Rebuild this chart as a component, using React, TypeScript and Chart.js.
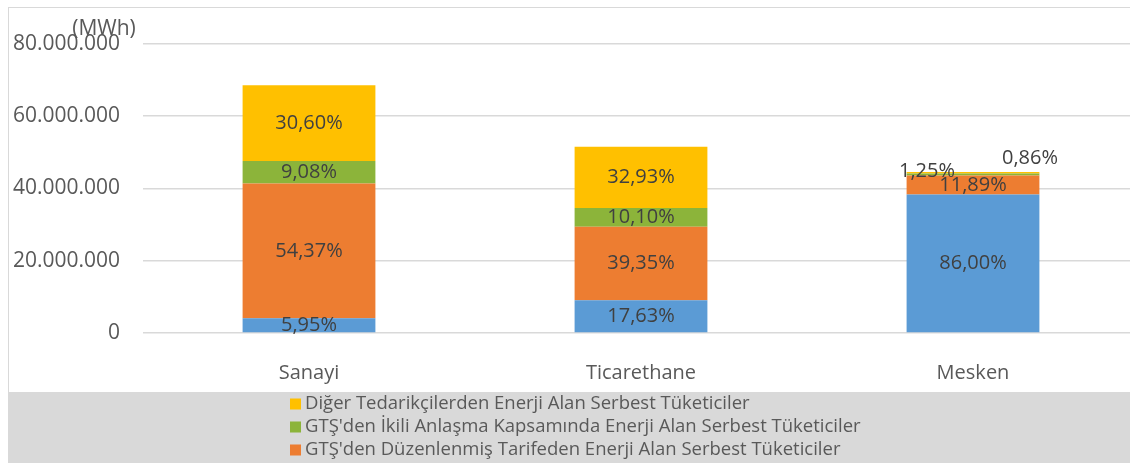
import React, { useEffect, useRef } from "react";
import { Chart, registerables } from "chart.js";

Chart.register(...registerables);

const categories = ["Sanayi", "Ticarethane", "Mesken"];

const seriesNames = [
  "Serbest Olmayan Tüketiciler",
  "GTŞ'den Düzenlenmiş Tarifeden Enerji Alan Serbest Tüketiciler",
  "GTŞ'den İkili Anlaşma Kapsamında Enerji Alan Serbest Tüketiciler",
  "Diğer Tedarikçilerden Enerji Alan Serbest Tüketiciler",
];

const seriesColors = ["#5b9bd5", "#ed7d31", "#8cb43a", "#ffc000"];

const blueValues = [4080000, 9080000, 38270000];
const orangeValues = [37240000, 20270000, 5290000];
const greenValues = [6220000, 5200000, 560000];
const yellowValues = [20960000, 16960000, 380000];

const bluePct = ["5,95%", "17,63%", "86,00%"];
const orangePct = ["54,37%", "39,35%", "11,89%"];
const greenPct = ["9,08%", "10,10%", "1,25%"];
const yellowPct = ["30,60%", "32,93%", "0,86%"];

const yTickValues = [0, 20000000, 40000000, 60000000, 80000000];
const yAxisUnit = "(MWh)";

const legendOrder = [3, 2, 1];

const FONT = "'Open Sans', 'DejaVu Sans', sans-serif";

function fmt(v: number): string {
  return String(Math.round(v)).replace(/\B(?=(\d{3})+(?!\d))/g, ".");
}

export default function App() {
  const ref = useRef<HTMLCanvasElement | null>(null);

  useEffect(() => {
    const canvas = ref.current;
    if (!canvas) return;
    const values = [blueValues, orangeValues, greenValues, yellowValues];
    const pcts = [bluePct, orangePct, greenPct, yellowPct];

    const bandTop = 384;

    const bgPlugin = {
      id: "bgBand",
      beforeDraw(chart: any) {
        const ctx = chart.ctx;
        ctx.save();
        ctx.fillStyle = "#d9d9d9";
        ctx.fillRect(0, bandTop, chart.width, chart.height - bandTop);
        ctx.restore();
      },
    };

    const labelPlugin = {
      id: "segLabels",
      afterDatasetsDraw(chart: any) {
        const ctx = chart.ctx;
        ctx.save();
        ctx.font = `20px ${FONT}`;
        ctx.fillStyle = "#404040";
        ctx.textAlign = "center";
        ctx.textBaseline = "middle";
        chart.data.datasets.forEach((ds: any, di: number) => {
          const meta = chart.getDatasetMeta(di);
          meta.data.forEach((el: any, i: number) => {
            const p = el.getProps(["x", "y", "base"], true);
            let cx = p.x;
            let cy = (p.y + p.base) / 2;
            const h = Math.abs(p.base - p.y);
            if (h < 6) {
              if (di === 2) {
                cx -= 46;
                cy -= 3;
              } else if (di === 3) {
                cx += 57;
                cy -= 14;
              }
            }
            ctx.fillText(pcts[di][i], cx, cy);
          });
        });
        ctx.restore();
      },
    };

    const extrasPlugin = {
      id: "extras",
      afterDraw(chart: any) {
        const ctx = chart.ctx;
        ctx.save();
        ctx.font = `21px ${FONT}`;
        ctx.fillStyle = "#595959";
        ctx.textAlign = "center";
        ctx.textBaseline = "middle";
        ctx.fillText(yAxisUnit, 95, 21);

        ctx.font = `18.5px ${FONT}`;
        ctx.textAlign = "left";
        legendOrder.forEach((si, row) => {
          const cy = 396 + row * 23;
          ctx.fillStyle = seriesColors[si];
          ctx.fillRect(281, cy - 5.5, 11, 11);
          ctx.fillStyle = "#595959";
          ctx.fillText(seriesNames[si], 296, cy);
        });
        ctx.restore();
      },
    };

    const chart = new Chart(canvas, {
      type: "bar",
      data: {
        labels: categories,
        datasets: values.map((v, i) => ({
          label: seriesNames[i],
          data: v,
          backgroundColor: seriesColors[i],
          borderWidth: 0,
          categoryPercentage: 0.4,
          barPercentage: 1,
        })),
      },
      options: {
        responsive: false,
        animation: false,
        devicePixelRatio: 1,
        layout: { padding: { left: 0, top: 34, right: 8, bottom: 70 } },
        plugins: {
          legend: { display: false },
          tooltip: { enabled: false },
          title: { display: false },
        },
        scales: {
          x: {
            stacked: true,
            grid: { display: false },
            border: { display: false },
            ticks: {
              color: "#595959",
              font: { family: FONT, size: 20 },
              padding: 20,
            },
            afterFit(scale: any) {
              scale.height = 59;
            },
          },
          y: {
            stacked: true,
            min: 0,
            max: 80000000,
            afterBuildTicks(scale: any) {
              scale.ticks = yTickValues.map((v) => ({ value: v }));
            },
            grid: { color: "#d9d9d9", lineWidth: 1.5, drawTicks: false },
            border: { display: false },
            ticks: {
              color: "#595959",
              font: { family: FONT, size: 21 },
              padding: 23,
              callback: (v: any) => fmt(Number(v)),
            },
            afterFit(scale: any) {
              scale.width = 134;
            },
          },
        },
      },
      plugins: [bgPlugin, labelPlugin, extrasPlugin],
    });

    return () => chart.destroy();
  }, []);

  return (
    <div
      style={{
        position: "fixed",
        left: 8,
        top: 7,
        width: 1140,
        height: 456,
        border: "1px solid #d9d9d9",
        boxSizing: "border-box",
        background: "#ffffff",
      }}
    >
      <canvas ref={ref} width={1138} height={454} style={{ display: "block" }} />
    </div>
  );
}
